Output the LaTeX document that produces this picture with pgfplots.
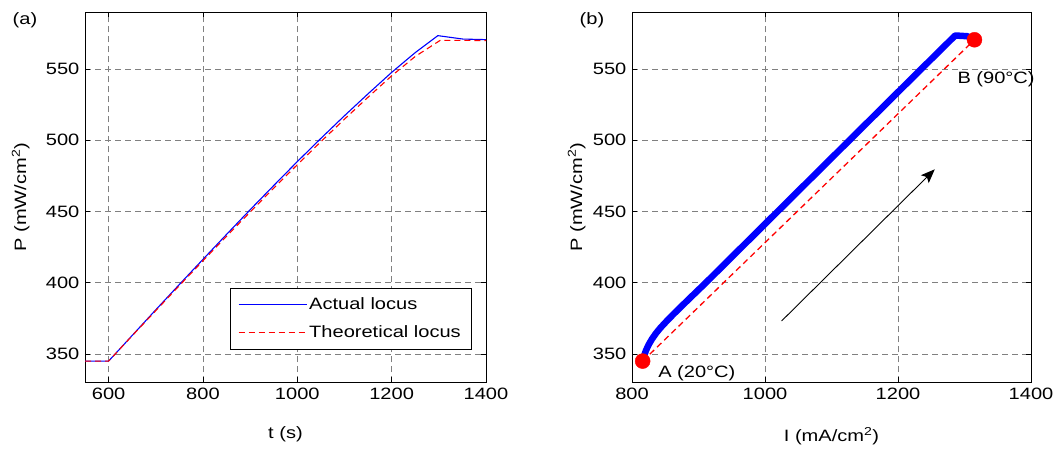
\documentclass[border=0pt]{standalone}
\usepackage{fontspec}
\setmainfont{Liberation Sans}[FakeStretch=1.22]
\usepackage{pgfplots}
\pgfplotsset{compat=1.18}
\usetikzlibrary{arrows.meta}
\definecolor{mblue}{rgb}{0,0,1}
\definecolor{mred}{rgb}{1,0,0}
\pgfplotsset{
  mstyle/.style={
    scale only axis, width=401bp, height=370.5bp,
    ymin=330, ymax=590, ytick={350,400,450,500,550},
    xtick={600,800,1000,1200,1400},
    grid=major,
    grid style={dash pattern=on 6bp off 4bp, black!50, line width=0.6bp},
    tick align=inside, major tick length=5bp,
    tick style={black, line width=0.6bp},
    axis line style={black, line width=0.8bp},
    /pgf/number format/assume math mode=true,
    /pgf/number format/1000 sep={},
    xlabel style={at={(0.5,-0.15)}, anchor=base},
    ylabel style={at={(-0.147,0.5)}, anchor=base},
  }
}
\begin{document}
\fontsize{16.5}{19}\selectfont
\begin{tikzpicture}[x=1bp,y=1bp]
\useasboundingbox (0,0) rectangle (1056,450);
\node[anchor=base west] at (7,425) {(a)};
\node[anchor=base west] at (574,425) {(b)};
\begin{axis}[mstyle, at={(85bp,67.5bp)}, anchor=south west,
  xmin=550, xmax=1400,
  xlabel={t (s)}, ylabel={P (mW/cm\textsuperscript{2})},
  legend style={at={(0.9626,0.0896)}, anchor=south east, draw=black,
    fill=white, cells={anchor=west}, row sep=10bp, inner xsep=8bp, inner ysep=7bp},
]
\addplot[color=mblue, line width=1.1bp, line join=round,
  legend image code/.code={\draw[mblue, line width=1.1bp] (0bp,0bp) -- (68bp,0bp);}] coordinates {
(550,345) (600,345) (650,363) (700,381) (750,398.8) (800,416.4) (850,433.9)
(900,451.2) (950,468.2) (1000,485) (1050,501.3) (1100,517.2) (1150,532.6)
(1200,547.6) (1250,561.5) (1298,573.4) (1351,571) (1400,570.6)};
\addlegendentry{Actual locus}
\addplot[color=mred, line width=1.1bp, dash pattern=on 6bp off 4bp,
  legend image code/.code={\draw[mred, line width=1.1bp, dash pattern=on 6bp off 4bp] (0bp,0bp) -- (68bp,0bp);}] coordinates {
(550,345) (600,345) (650,362.8) (700,380.4) (750,398) (800,415.4) (850,432.6)
(900,449.6) (950,466.4) (1000,482.8) (1050,499) (1100,514.8) (1150,530.2)
(1200,545.2) (1250,558.8) (1303,570.1) (1400,570)};
\addlegendentry{Theoretical locus}
\end{axis}
\begin{axis}[mstyle, at={(632bp,67.5bp)}, anchor=south west, width=399bp,
  xmin=800, xmax=1400, xtick={800,1000,1200,1400},
  xlabel={I (mA/cm\textsuperscript{2})}, ylabel={P (mW/cm\textsuperscript{2})},
  xlabel style={at={(0.5,-0.16)}},
  ylabel style={at={(-0.125,0.5)}},
  clip=false,
]
\addplot[mred, line width=1.3bp, dash pattern=on 6bp off 4bp] coordinates {
(816,345) (1315,570.5)};
\addplot[mblue, line width=6.5bp, line join=round] coordinates {
(816,345) (818,348.5) (821,352.5) (825,356.5) (830,360.5) (836,364.5) (843,368.5)
(852,373) (862,377.8) (874,383.3) (887,389.2) (911,400) (1019,450) (1127,500)
(1235,550) (1286,573.5) (1304,573) (1313,571)};
\addplot[only marks, mark=*, mark size=7.5bp, mred, mark options={draw=mred, fill=mred}]
  coordinates {(816,345) (1315,570.5)};
\addplot[black, line width=0.9bp, -{Stealth[length=14bp, width=11bp, inset=3bp]}] coordinates {
(1025,373.2) (1255.3,479.6)};
\node[anchor=base west] at (axis cs:831,333.3) {A (20°C)};
\node[anchor=base west] at (axis cs:1281,539.5) {B (90°C)};
\end{axis}
\end{tikzpicture}
\end{document}
